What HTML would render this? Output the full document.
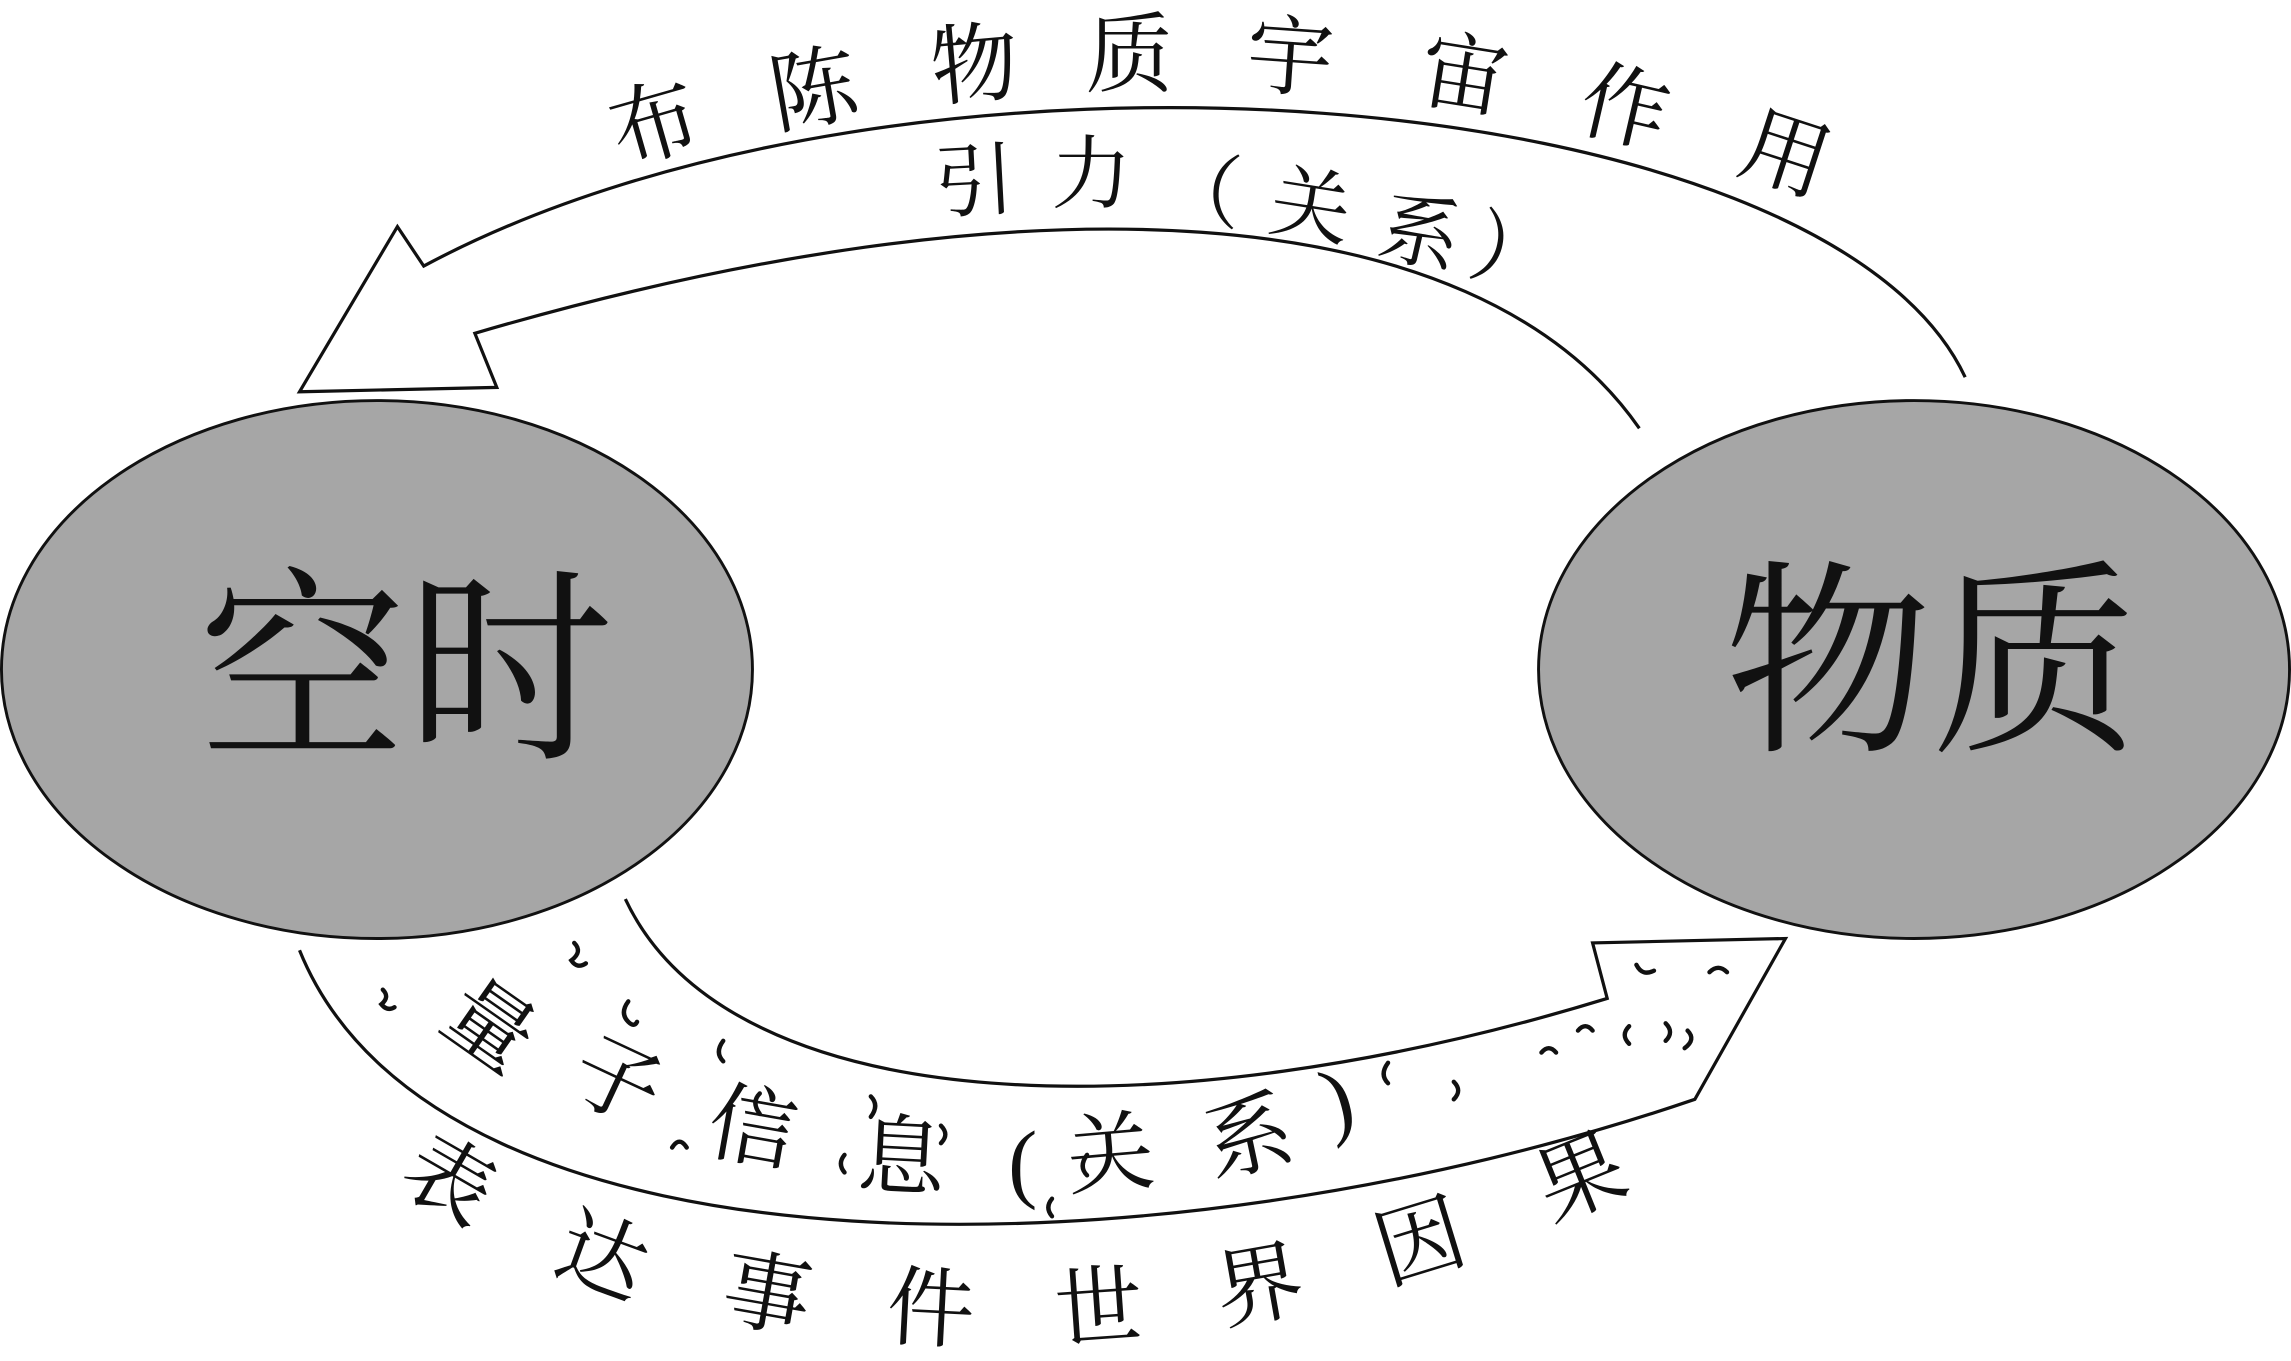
<!DOCTYPE html>
<html><head><meta charset="utf-8"><style>
html,body{margin:0;padding:0;background:#fff;width:2291px;height:1361px;overflow:hidden;}
svg{display:block;}
text{font-family:"Liberation Serif","Noto Serif CJK SC","Noto Sans CJK SC",serif;fill:#111;}
</style></head><body>
<svg width="2291" height="1361" viewBox="0 0 1568 931" preserveAspectRatio="none" xmlns="http://www.w3.org/2000/svg">
<rect width="1568" height="931" fill="#fff"/>
<path d="M1345,258 C1250,55 620,5 290,182 L272,155 L205,268 L340,265 L325,228 C700,118 1010,132 1122,293" fill="none" stroke="#111" stroke-width="2.2"/>
<path d="M205,650 C300,885 800,875 1160,752 L1222,642 L1090,645 L1100,683 C800,775 500,768 428,615" fill="none" stroke="#111" stroke-width="2.2"/>
<ellipse cx="258" cy="458" rx="257" ry="184" fill="#a6a6a6" stroke="#111" stroke-width="2"/>
<ellipse cx="1310" cy="458" rx="257" ry="184" fill="#a6a6a6" stroke="#111" stroke-width="2"/>
<text x="278" y="460" font-size="142" text-anchor="middle" dominant-baseline="central">空时</text>
<text x="1322" y="455" font-size="142" text-anchor="middle" dominant-baseline="central">物质</text>
<g font-size="60" text-anchor="middle" dominant-baseline="central">
<text transform="translate(448,85) rotate(-16)">布</text>
<text transform="translate(557,62) rotate(-10)">陈</text>
<text transform="translate(667,45) rotate(-5)">物</text>
<text transform="translate(773,38) rotate(0)">质</text>
<text transform="translate(883,40) rotate(4)">宇</text>
<text transform="translate(1002,52) rotate(9)">宙</text>
<text transform="translate(1112,74) rotate(13)">作</text>
<text transform="translate(1222,106) rotate(18)">用</text>
</g>
<g font-size="55" text-anchor="middle" dominant-baseline="central">
<text transform="translate(667,125) rotate(-3)">引</text>
<text transform="translate(747,120) rotate(0)">力</text>
<text transform="translate(822,132) rotate(5)">（</text>
<text transform="translate(897,142) rotate(9)">关</text>
<text transform="translate(972,160) rotate(13)">系</text>
<text transform="translate(1035,175) rotate(16)">）</text>
</g>
<g font-size="60" text-anchor="middle" dominant-baseline="central">
<text transform="translate(335,702) rotate(35)">量</text>
<text transform="translate(422,740) rotate(25)">子</text>
<text transform="translate(515,772) rotate(10)">信</text>
<text transform="translate(617,792) rotate(3)">息</text>
<text transform="translate(700,795) rotate(0)">(</text>
<text transform="translate(760,790) rotate(-5)">关</text>
<text transform="translate(855,778) rotate(-12)">系</text>
<text transform="translate(915,752) rotate(-15)">)</text>
</g>
<g font-size="60" text-anchor="middle" dominant-baseline="central">
<text transform="translate(307,808) rotate(30)">表</text>
<text transform="translate(412,860) rotate(20)">达</text>
<text transform="translate(525,886) rotate(10)">事</text>
<text transform="translate(637,896) rotate(3)">件</text>
<text transform="translate(752,895) rotate(-4)">世</text>
<text transform="translate(862,880) rotate(-10)">界</text>
<text transform="translate(972,850) rotate(-17)">因</text>
<text transform="translate(1082,806) rotate(-22)">果</text>
</g>
<g fill="none" stroke="#111" stroke-width="3" stroke-linecap="round">
<path d="M393,645 q6,6 -2,12 q4,6 10,2"/>
<path d="M262,677 q5,5 -1,10 q4,5 9,2"/>
<path d="M430,685 q-6,8 0,14 q4,4 6,0"/>
<path d="M495,712 q-6,8 0,14"/>
<path d="M460,785 q5,-8 10,0"/>
<path d="M596,750 q6,6 0,14"/>
<path d="M520,748 q-6,6 0,14"/>
<path d="M578,790 q-5,6 0,12"/>
<path d="M644,770 q6,6 0,12"/>
<path d="M744,790 q-6,8 0,14"/>
<path d="M720,820 q-5,6 0,12"/>
<path d="M950,727 q-6,8 0,14"/>
<path d="M995,740 q6,6 0,12"/>
<path d="M1055,720 q5,-6 10,0"/>
<path d="M1080,705 q5,-6 10,0"/>
<path d="M1115,702 q-6,6 0,12"/>
<path d="M1155,705 q6,6 -2,12"/>
<path d="M1120,660 q4,8 12,4"/>
<path d="M1170,665 q6,-6 12,0"/>
<path d="M1140,700 q6,6 0,12"/>
</g>
</svg>
</body></html>
